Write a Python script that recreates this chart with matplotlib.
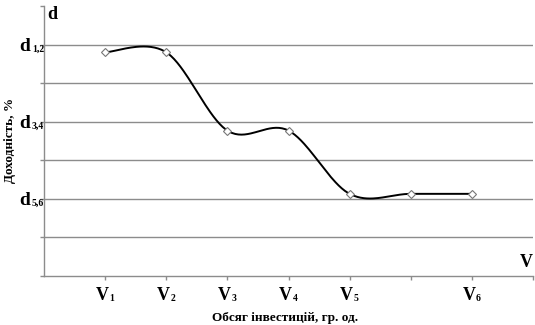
import numpy as np
import matplotlib
matplotlib.use("Agg")
import matplotlib.pyplot as plt

plt.rcParams["font.family"] = ["Liberation Serif", "DejaVu Serif"]

# data
x_pos = [1, 2, 3, 4, 5, 6, 7]
y_val = [5.8, 5.8, 3.77, 3.77, 2.13, 2.13, 2.13]
x_main = ["V", "V", "V", "V", "V", "", "V"]
x_sub = ["1", "2", "3", "4", "5", "", "6"]
y_ticks = [6, 4, 2]
y_main = ["d", "d", "d"]
y_sub = ["1,2", "3,4", "5,6"]


def smooth(xs, ys, n=40):
    # catmull-rom style bezier, like excel's smoothed line
    p = np.column_stack([xs, ys]).astype(float)
    p = np.vstack([p[0], p, p[-1]])
    out = []
    t = np.linspace(0, 1, n)[:, None]
    for i in range(1, len(p) - 2):
        b0 = p[i]
        b1 = p[i] + (p[i + 1] - p[i - 1]) / 6
        b2 = p[i + 1] - (p[i + 2] - p[i]) / 6
        b3 = p[i + 1]
        seg = ((1 - t) ** 3) * b0 + 3 * ((1 - t) ** 2) * t * b1 \
            + 3 * (1 - t) * t ** 2 * b2 + t ** 3 * b3
        out.append(seg)
    out = np.vstack(out)
    return out[:, 0], out[:, 1]


fig = plt.figure(figsize=(5.35, 3.25), dpi=100)
ax = fig.add_axes([44 / 535, 49 / 325, 489 / 535, 270 / 325])

ax.set_xlim(0, 8)
ax.set_ylim(0, 7)

for g in range(1, 7):
    ax.axhline(g, color="#8c8c8c", lw=1, zorder=1)

sx, sy = smooth(x_pos, y_val)
ax.plot(sx, sy, color="black", lw=1.4, zorder=2)
ax.plot(x_pos, y_val, ls="none", marker="D", ms=4, mfc="white",
        mec="#777777", mew=0.8, zorder=3)

for s in ["top", "right"]:
    ax.spines[s].set_visible(False)
for s in ["left", "bottom"]:
    ax.spines[s].set_color("#8c8c8c")
    ax.spines[s].set_linewidth(1)

ax.set_xticks(range(1, 9))
ax.set_xticklabels([])
ax.set_yticks(range(0, 8))
ax.set_yticklabels([])
ax.tick_params(axis="both", length=3, color="#8c8c8c", width=1)

# tick labels with small subscripts, as in the original
for xp, m, s in zip(x_pos, x_main, x_sub):
    if not m:
        continue
    ax.annotate(m, (xp, 0), xytext=(-3, -24), textcoords="offset pixels",
                ha="center", va="baseline", fontsize=13, fontweight="bold",
                annotation_clip=False)
    ax.annotate(s, (xp, 0), xytext=(4, -25), textcoords="offset pixels",
                ha="left", va="baseline", fontsize=7, fontweight="bold",
                annotation_clip=False)

for yp, m, s in zip(y_ticks, y_main, y_sub):
    ax.annotate(m, (0, yp), xytext=(-14, -6), textcoords="offset pixels",
                ha="right", va="baseline", fontsize=14, fontweight="bold",
                annotation_clip=False)
    ax.annotate(s, (0, yp), xytext=(-12, -7), textcoords="offset pixels",
                ha="left", va="baseline", fontsize=7, fontweight="bold",
                annotation_clip=False)

ax.text(8, 0.12, "V", fontsize=13, fontweight="bold", ha="right", va="bottom")
ax.text(0.05, 7, "d", fontsize=13, fontweight="bold", ha="left", va="top")

fig.text(285 / 535, 7 / 325, "Обсяг інвестицій, гр. од.", fontsize=9.5,
         fontweight="bold", ha="center", va="center")
fig.text(10 / 535, 185 / 325, "Доходність, %", fontsize=9.5, fontweight="bold",
         ha="center", va="center", rotation=90)

fig.savefig("out.png", dpi=100)
